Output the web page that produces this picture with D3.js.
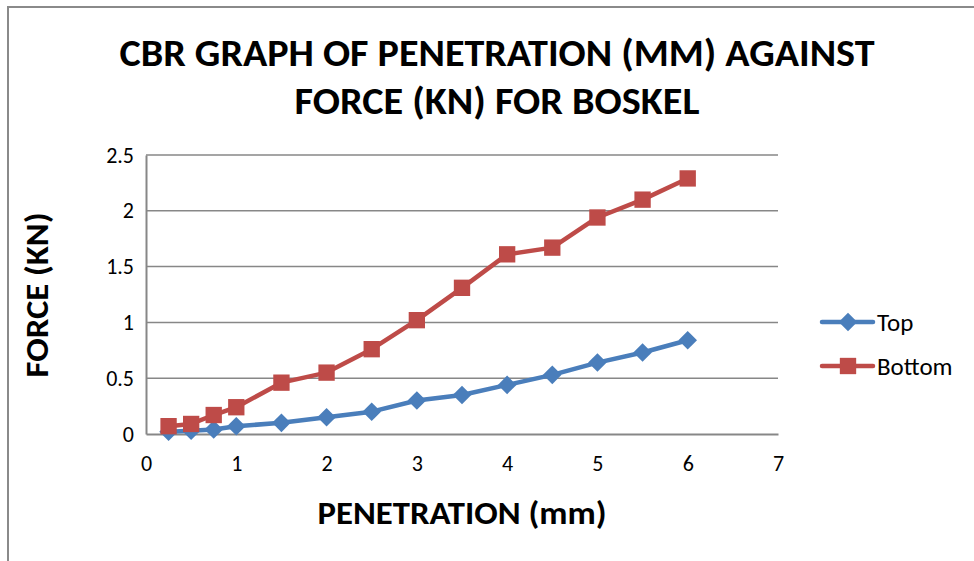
<!DOCTYPE html>
<html>
<head>
<meta charset="utf-8">
<script src="https://cdn.jsdelivr.net/npm/d3@7"></script>
<style>
  body { margin: 0; background: #fff; }
  svg { display: block; font-family: Carlito, Calibri, Lato, "Open Sans", sans-serif; }
</style>
</head>
<body>
<div id="chart"></div>
<script>
// penetration (mm) readings
var penetration = [0.25, 0.5, 0.75, 1, 1.5, 2, 2.5, 3, 3.5, 4, 4.5, 5, 5.5, 6];
// force (kN) for each series
var topForce = [0.02, 0.03, 0.04, 0.07, 0.1, 0.15, 0.2, 0.3, 0.35, 0.44, 0.53, 0.64, 0.73, 0.84];
var bottomForce = [0.07, 0.09, 0.17, 0.24, 0.46, 0.55, 0.76, 1.02, 1.31, 1.61, 1.67, 1.94, 2.1, 2.29];
var seriesNames = ["Top", "Bottom"];
var xTicks = [0, 1, 2, 3, 4, 5, 6, 7];
var yTicks = [0, 0.5, 1, 1.5, 2, 2.5];
var titleLines = ["CBR GRAPH OF PENETRATION (MM) AGAINST", "FORCE (KN) FOR BOSKEL"];

var width = 974, height = 561;
var margin = {top: 155, right: 196, bottom: 127, left: 146};
var innerW = width - margin.left - margin.right,
    innerH = height - margin.top - margin.bottom;

var svg = d3.select("#chart").append("svg")
    .attr("width", width)
    .attr("height", height);

// outer chart frame (only top and left edges show in the crop)
svg.append("path")
    .attr("d", "M8,561 V7 H974")
    .attr("fill", "none")
    .attr("stroke", "#8a8a8a")
    .attr("stroke-width", 2);

var g = svg.append("g")
    .attr("transform", "translate(" + margin.left + "," + margin.top + ")");

var x = d3.scaleLinear().domain([0, 7]).range([0, innerW]);
var y = d3.scaleLinear().domain([0, 2.5]).range([innerH, 0]);

// gridlines
g.selectAll("line.grid")
    .data(yTicks.slice(1))
    .enter().append("line")
    .attr("class", "grid")
    .attr("x1", 0).attr("x2", innerW)
    .attr("y1", d => y(d)).attr("y2", d => y(d))
    .attr("stroke", "#878787")
    .attr("stroke-width", 1.5);

// axes
var yAxis = g.append("g")
    .call(d3.axisLeft(y).tickValues(yTicks).tickSize(0).tickPadding(12).tickFormat(d3.format("")));
var xAxis = g.append("g")
    .attr("transform", "translate(0," + innerH + ")")
    .call(d3.axisBottom(x).tickValues(xTicks).tickSize(0).tickPadding(21).tickFormat(d3.format("d")));

[yAxis, xAxis].forEach(function(a) {
    a.select(".domain").attr("stroke", "#878787").attr("stroke-width", 2);
    a.selectAll("text").attr("font-size", 22).attr("fill", "#000")
        .attr("font-family", "Carlito, Calibri, Lato, sans-serif");
});

// series
var series = [
    {name: seriesNames[0], values: topForce, color: "#4a7ebb", marker: d3.symbolDiamond2, size: 220},
    {name: seriesNames[1], values: bottomForce, color: "#be4b48", marker: d3.symbolSquare2, size: 340}
];

var line = d3.line()
    .x(d => x(d[0]))
    .y(d => y(d[1]));

series.forEach(function(s) {
    var pts = penetration.map((p, i) => [p, s.values[i]]);
    var sg = g.append("g");
    sg.append("path")
        .datum(pts)
        .attr("d", line)
        .attr("fill", "none")
        .attr("stroke", s.color)
        .attr("stroke-width", 4.5)
        .attr("stroke-linejoin", "round");
    sg.selectAll("path.pt")
        .data(pts)
        .enter().append("path")
        .attr("class", "pt")
        .attr("d", d3.symbol().type(s.marker).size(s.size))
        .attr("transform", d => "translate(" + x(d[0]) + "," + y(d[1]) + ")")
        .attr("fill", s.color);
});

// title
var titleWidths = [755, 405];
svg.append("g").selectAll("text")
    .data(titleLines)
    .enter().append("text")
    .attr("x", 497)
    .attr("y", (d, i) => 66 + i * 48)
    .attr("text-anchor", "middle")
    .attr("font-size", 38)
    .attr("font-weight", "bold")
    .attr("textLength", (d, i) => titleWidths[i])
    .attr("lengthAdjust", "spacingAndGlyphs")
    .text(d => d);

// axis titles
svg.append("text")
    .attr("x", 462)
    .attr("y", 524)
    .attr("text-anchor", "middle")
    .attr("font-size", 32)
    .attr("font-weight", "bold")
    .attr("textLength", 289)
    .attr("lengthAdjust", "spacingAndGlyphs")
    .text("PENETRATION (mm)");

svg.append("text")
    .attr("transform", "translate(48,295) rotate(-90)")
    .attr("text-anchor", "middle")
    .attr("font-size", 32)
    .attr("font-weight", "bold")
    .attr("textLength", 165)
    .attr("lengthAdjust", "spacingAndGlyphs")
    .text("FORCE (KN)");

// legend
var legend = svg.append("g")
    .attr("transform", "translate(822,322)");
var li = legend.selectAll("g")
    .data(series)
    .enter().append("g")
    .attr("transform", (d, i) => "translate(0," + i * 44 + ")");
li.append("line")
    .attr("x1", 0).attr("x2", 51)
    .attr("stroke", d => d.color)
    .attr("stroke-width", 4.5)
    .attr("stroke-linecap", "round");
li.append("path")
    .attr("d", d => d3.symbol().type(d.marker).size(d.size)())
    .attr("transform", "translate(26,0)")
    .attr("fill", d => d.color);
li.append("text")
    .attr("x", 55)
    .attr("dy", "0.35em")
    .attr("font-size", 25)
    .text(d => d.name);
</script>
</body>
</html>
